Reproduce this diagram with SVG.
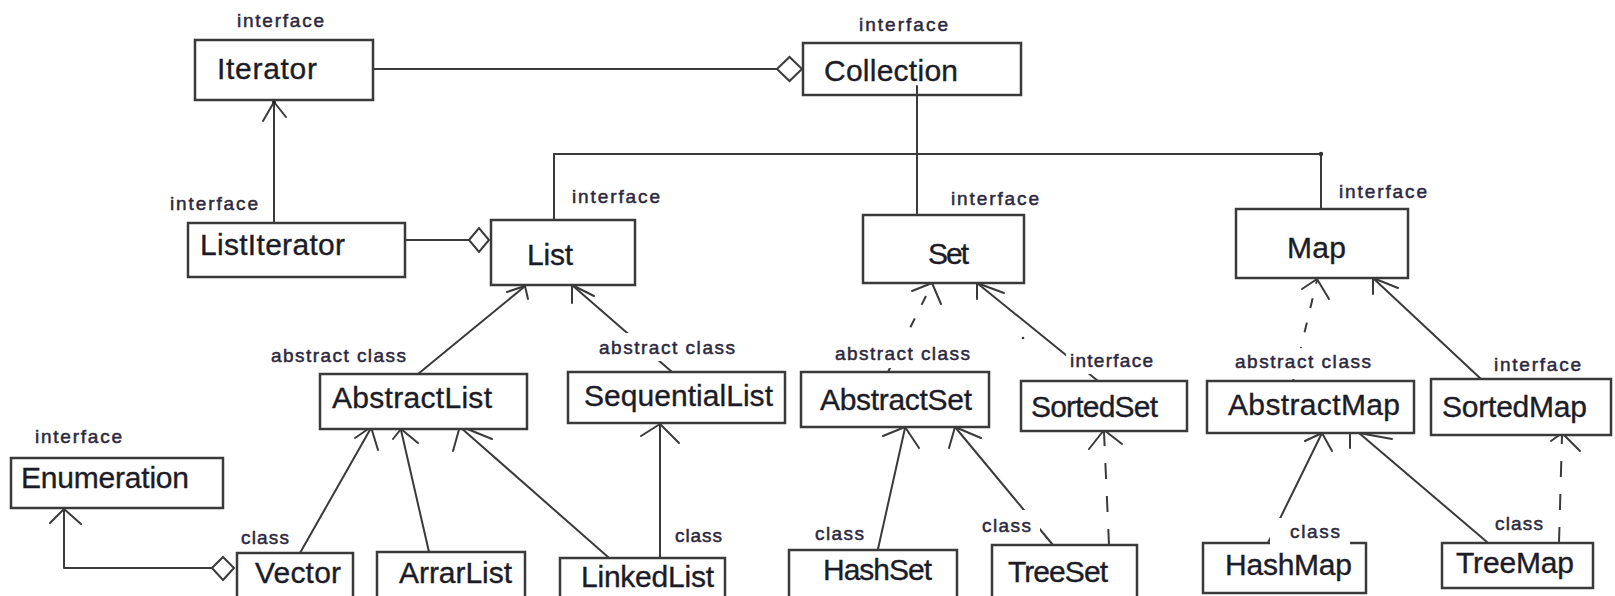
<svg xmlns="http://www.w3.org/2000/svg" width="1615" height="596" viewBox="0 0 1615 596">
<style>
.box{fill:#fff;stroke:#3a3a3a;stroke-width:2.5}
.c{fill:none;stroke:#3a3a3a;stroke-width:2;stroke-linecap:round;stroke-linejoin:round}
.d{stroke-dasharray:10 15;stroke-linecap:butt}
.dia{fill:#fff;stroke:#3a3a3a;stroke-width:2}
.n{font-family:"Liberation Sans",Arial,sans-serif;font-size:30px;fill:#1c1c28;stroke:#1c1c28;stroke-width:0.35}
.l{font-family:"Liberation Sans",Arial,sans-serif;font-size:19px;fill:#2c2840;stroke:#2c2840;stroke-width:0.5}
.bg{fill:#fff}
</style>
<rect width="1615" height="596" fill="#fff"/>
<g id="connectors">
  <line class="c" x1="373" y1="69" x2="777" y2="69"/>
  <path class="dia" d="M777,69 L789.5,57 L802,69 L789.5,81 Z"/>
  <line class="c" x1="274" y1="223" x2="274" y2="101"/>
  <polyline class="c" points="263,121 274,102 286,117"/>
  <circle cx="274" cy="102" r="2" fill="#222"/>
  <line class="c" x1="405" y1="240" x2="469" y2="240"/>
  <path class="dia" d="M469,240 L479,228 L489,240 L479,252 Z"/>
  <line class="c" x1="917" y1="95" x2="917" y2="215"/>
  <polyline class="c" points="554,220 554,154 1321,154 1321,209"/>
  <circle cx="1321" cy="154" r="2.2" fill="#333"/>
  <line class="c" x1="418" y1="374" x2="524" y2="287"/>
  <polyline class="c" points="507,292 525,286 528,299"/>
  <line class="c" x1="672" y1="372" x2="572" y2="285"/>
  <polyline class="c" points="572,303 572,285 594,296"/>
  <line class="c" x1="300" y1="553" x2="371" y2="428"/>
  <polyline class="c" points="355,438 371,427 378,450"/>
  <line class="c" x1="429" y1="552" x2="401" y2="430"/>
  <polyline class="c" points="393,439 401,429 418,443"/>
  <line class="c" x1="608" y1="557" x2="460" y2="427"/>
  <polyline class="c" points="453,451 460,426 492,439"/>
  <line class="c" x1="660" y1="557" x2="660" y2="425"/>
  <polyline class="c" points="641,436 660,424 679,443"/>
  <line class="c d" x1="888" y1="372" x2="932" y2="284"/>
  <polyline class="c" points="912,291 932,283 941,304"/>
  <line class="c" x1="878" y1="549" x2="905" y2="428"/>
  <polyline class="c" points="883,436 905,427 919,448"/>
  <line class="c" x1="1053" y1="545" x2="955" y2="427"/>
  <polyline class="c" points="949,448 955,427 981,438"/>
  <line class="c" x1="1098" y1="381" x2="977" y2="283"/>
  <polyline class="c" points="977,299 977,283 1004,293"/>
  <circle cx="1023" cy="338" r="1.3" fill="#333"/>
  <line class="c d" x1="1109" y1="545" x2="1104" y2="432" style="stroke-dasharray:16 17"/>
  <polyline class="c" points="1089,449 1104,430 1122,444"/>
  <line class="c d" x1="1293" y1="381" x2="1317" y2="280"/>
  <polyline class="c" points="1302,289 1317,279 1329,299"/>
  <line class="c" x1="1481" y1="379" x2="1373" y2="278"/>
  <polyline class="c" points="1373,294 1373,278 1398,288"/>
  <line class="c" x1="1267" y1="545" x2="1322" y2="433"/>
  <polyline class="c" points="1305,441 1322,433 1332,451"/>
  <line class="c" x1="1487" y1="542" x2="1359" y2="433"/>
  <polyline class="c" points="1350,448 1350,433 1359,433 1392,439"/>
  <line class="c d" x1="1559" y1="543" x2="1562" y2="436" style="stroke-dasharray:16 17"/>
  <polyline class="c" points="1551,441 1562,433 1580,451"/>
  <polyline class="c" points="212,568 64,568 64,510"/>
  <path class="dia" d="M212,568 L223,557 L234,568 L223,580 Z"/>
  <polyline class="c" points="50,523 64,509 81,524"/>
</g>
<g id="node-iterator">
  <rect class="box" x="195" y="40" width="178" height="60"/>
  <text class="n" x="217" y="79" textLength="100">Iterator</text>
  <text class="l" x="237" y="27" textLength="87">interface</text>
</g>
<g id="node-collection">
  <rect class="box" x="803" y="43" width="218" height="52"/>
  <line class="c" x1="917" y1="86" x2="917" y2="95"/>
  <text class="n" x="824" y="81" textLength="134">Collection</text>
  <text class="l" x="859" y="31" textLength="89">interface</text>
</g>
<g id="node-listiterator">
  <rect class="box" x="188" y="223" width="217" height="54"/>
  <text class="n" x="200" y="255" textLength="145">ListIterator</text>
  <text class="l" x="170" y="210" textLength="88">interface</text>
</g>
<g id="node-list">
  <rect class="box" x="491" y="220" width="144" height="65"/>
  <text class="n" x="527" y="265" textLength="46">List</text>
  <text class="l" x="572" y="203" textLength="88">interface</text>
</g>
<g id="node-set">
  <rect class="box" x="863" y="215" width="161" height="68"/>
  <text class="n" x="928" y="264" textLength="41">Set</text>
  <text class="l" x="951" y="205" textLength="88">interface</text>
</g>
<g id="node-map">
  <rect class="box" x="1236" y="209" width="172" height="69"/>
  <text class="n" x="1287" y="258" textLength="59">Map</text>
  <text class="l" x="1339" y="198" textLength="88">interface</text>
</g>
<g id="node-abstractlist">
  <rect class="box" x="320" y="374" width="207" height="55"/>
  <text class="n" x="332" y="408" textLength="160">AbstractList</text>
  <text class="l" x="271" y="362" textLength="135">abstract class</text>
</g>
<g id="node-sequentiallist">
  <rect class="box" x="568" y="372" width="217" height="51"/>
  <text class="n" x="584" y="406" textLength="189">SequentialList</text>
  <rect class="bg" x="597" y="333" width="140" height="28"/>
  <text class="l" x="599" y="354" textLength="136">abstract class</text>
</g>
<g id="node-abstractset">
  <rect class="box" x="801" y="372" width="188" height="55"/>
  <text class="n" x="820" y="410" textLength="152">AbstractSet</text>
  <rect class="bg" x="833" y="328" width="140" height="40"/>
  <text class="l" x="835" y="360" textLength="135">abstract class</text>
</g>
<g id="node-sortedset">
  <rect class="box" x="1021" y="381" width="166" height="50"/>
  <text class="n" x="1031" y="417" textLength="127">SortedSet</text>
  <rect class="bg" x="1066" y="350" width="90" height="24"/>
  <text class="l" x="1070" y="367" textLength="83">interface</text>
</g>
<g id="node-abstractmap">
  <rect class="box" x="1207" y="381" width="207" height="52"/>
  <text class="n" x="1228" y="415" textLength="172">AbstractMap</text>
  <rect class="bg" x="1233" y="348" width="140" height="31"/>
  <text class="l" x="1235" y="368" textLength="136">abstract class</text>
</g>
<g id="node-sortedmap">
  <rect class="box" x="1431" y="379" width="180" height="56"/>
  <text class="n" x="1442" y="417" textLength="145">SortedMap</text>
  <text class="l" x="1494" y="371" textLength="87">interface</text>
</g>
<g id="node-enumeration">
  <rect class="box" x="11" y="458" width="212" height="50"/>
  <text class="n" x="21" y="488" textLength="168">Enumeration</text>
  <text class="l" x="35" y="443" textLength="87">interface</text>
</g>
<g id="node-vector">
  <rect class="box" x="237" y="553" width="116" height="60"/>
  <text class="n" x="255" y="583" textLength="86">Vector</text>
  <text class="l" x="241" y="544" textLength="48">class</text>
</g>
<g id="node-arrarlist">
  <rect class="box" x="377" y="552" width="148" height="60"/>
  <text class="n" x="399" y="583" textLength="113">ArrarList</text>
</g>
<g id="node-linkedlist">
  <rect class="box" x="560" y="558" width="165" height="60"/>
  <text class="n" x="581" y="587" textLength="133">LinkedList</text>
  <text class="l" x="675" y="542" textLength="47">class</text>
</g>
<g id="node-hashset">
  <rect class="box" x="789" y="550" width="168" height="60"/>
  <text class="n" x="823" y="580" textLength="109">HashSet</text>
  <text class="l" x="815" y="540" textLength="49">class</text>
</g>
<g id="node-treeset">
  <rect class="box" x="992" y="545" width="145" height="60"/>
  <text class="n" x="1008" y="582" textLength="100">TreeSet</text>
  <rect class="bg" x="980" y="510" width="60" height="24"/>
  <text class="l" x="982" y="532" textLength="49">class</text>
</g>
<g id="node-hashmap">
  <rect class="box" x="1203" y="543" width="163" height="50"/>
  <text class="n" x="1225" y="575" textLength="127">HashMap</text>
  <rect class="bg" x="1270" y="518" width="80" height="27"/>
  <text class="l" x="1290" y="538" textLength="50">class</text>
</g>
<g id="node-treemap">
  <rect class="box" x="1442" y="543" width="151" height="45"/>
  <text class="n" x="1456" y="573" textLength="118">TreeMap</text>
  <text class="l" x="1495" y="530" textLength="48">class</text>
</g>
</svg>
